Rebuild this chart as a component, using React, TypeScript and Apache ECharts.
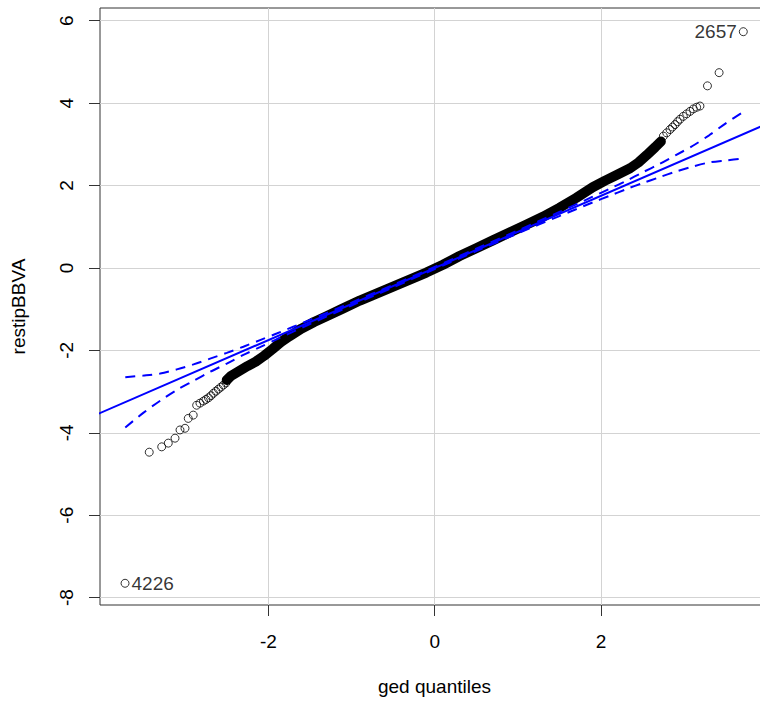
import React, { useEffect, useRef } from "react";
import * as echarts from "echarts";

// Axis ticks
const xTicks = [-2, 0, 2];
const yTicks = [-8, -6, -4, -2, 0, 2, 4, 6];
const xRange = [-4.024, 4.02];
const yRange = [-8.178, 6.309];

// Dense central part of the QQ points
const denseX = [-2.5, -2.45, -2.35, -2.25, -2.15, -2.05, -1.95, -1.85, -1.75, -1.6, -1.45, -1.3, -1.1, -0.9, -0.7, -0.5, -0.3, -0.1, 0.1, 0.3, 0.5, 0.7, 0.9, 1.1, 1.3, 1.5, 1.7, 1.9, 2.05, 2.2, 2.35, 2.45, 2.55, 2.65, 2.72];
const denseY = [-2.72, -2.62, -2.5, -2.38, -2.27, -2.13, -1.97, -1.8, -1.66, -1.47, -1.31, -1.17, -0.98, -0.79, -0.62, -0.45, -0.28, -0.11, 0.08, 0.29, 0.48, 0.67, 0.86, 1.05, 1.24, 1.46, 1.7, 1.96, 2.12, 2.27, 2.42, 2.56, 2.74, 2.93, 3.07];

// Sparse tail points
const tailX = [-3.432, -3.282, -3.203, -3.122, -3.062, -3.002, -2.963, -2.903, -2.862, -2.822, -2.78, -2.75, -2.72, -2.69, -2.66, -2.63, -2.6, -2.57, -2.54, -2.51,
  2.75, 2.79, 2.83, 2.86, 2.89, 2.92, 2.95, 2.99, 3.03, 3.07, 3.11, 3.15, 3.19, 3.28, 3.42];
const tailY = [-4.47, -4.34, -4.25, -4.13, -3.93, -3.89, -3.65, -3.57, -3.33, -3.28, -3.23, -3.19, -3.15, -3.1, -3.04, -2.99, -2.94, -2.89, -2.84, -2.79,
  3.2, 3.28, 3.36, 3.42, 3.48, 3.55, 3.61, 3.68, 3.74, 3.8, 3.86, 3.9, 3.93, 4.42, 4.74];

// Labelled extreme observations
const outlierNames = ["4226", "2657"];
const outlierX = [-3.723, 3.711];
const outlierY = [-7.651, 5.734];

// Reference line
const fitX = [-4.2, 4.2];
const fitY = [-3.675, 3.675];

// Confidence envelope
const bandX = [-3.72, -3.5, -3.3, -3.1, -2.9, -2.7, -2.5, -2.3, -2.1, -1.9, -1.5, -1.0, -0.5, 0, 0.5, 1.0, 1.5, 1.9, 2.1, 2.3, 2.5, 2.7, 2.9, 3.1, 3.3, 3.5, 3.72];
const bandUpper = [-2.65, -2.61, -2.56, -2.46, -2.34, -2.2, -2.06, -1.91, -1.75, -1.59, -1.26, -0.84, -0.41, 0.025, 0.47, 0.91, 1.36, 1.73, 1.92, 2.11, 2.32, 2.52, 2.74, 2.96, 3.22, 3.51, 3.8];
const bandLower = [-3.87, -3.51, -3.22, -2.96, -2.74, -2.52, -2.32, -2.11, -1.92, -1.73, -1.36, -0.91, -0.47, -0.025, 0.41, 0.84, 1.26, 1.59, 1.75, 1.91, 2.06, 2.2, 2.34, 2.46, 2.56, 2.61, 2.66];

const FONT = "Liberation Sans, Arial, sans-serif";
const BLUE = "#0000ff";

export default function App() {
  const ref = useRef<HTMLDivElement>(null);
  useEffect(() => {
    if (!ref.current) return;
    const chart = echarts.init(ref.current, null, { renderer: "svg" });
    const zip = (xs: number[], ys: number[]) => xs.map((x, i) => [x, ys[i]]);
    chart.setOption({
      animation: false,
      backgroundColor: "#ffffff",
      grid: {
        left: 100, top: 8, width: 669, height: 597,
        outerBoundsMode: "none", containLabel: false,
        show: true, borderColor: "#333", borderWidth: 1, backgroundColor: "transparent",
      },
      xAxis: {
        type: "value",
        min: xRange[0],
        max: xRange[1],
        name: "ged quantiles",
        nameLocation: "middle",
        nameGap: 72,
        nameTextStyle: { fontSize: 19, color: "#000", fontFamily: FONT },
        axisLine: { show: false, onZero: false },
        axisTick: { show: true, length: 11, customValues: xTicks, lineStyle: { color: "#333" } },
        axisLabel: { customValues: xTicks, fontSize: 19, color: "#000", fontFamily: FONT, margin: 27 },
        splitLine: { show: true, lineStyle: { color: "#d3d3d3", width: 1 } },
      },
      yAxis: {
        type: "value",
        min: yRange[0],
        max: yRange[1],
        name: "restipBBVA",
        nameLocation: "middle",
        nameGap: 72,
        nameRotate: 90,
        nameTextStyle: { fontSize: 19, color: "#000", fontFamily: FONT },
        axisLine: { show: false, onZero: false },
        axisTick: { show: true, length: 11, customValues: yTicks, lineStyle: { color: "#333" } },
        axisLabel: { customValues: yTicks, fontSize: 19, color: "#000", fontFamily: FONT, rotate: 90, margin: 24 },
        splitLine: { show: true, lineStyle: { color: "#d3d3d3", width: 1 } },
      },
      series: [
        {
          type: "line",
          data: zip(denseX, denseY),
          showSymbol: false,
          symbol: "none",
          lineStyle: { color: "#000", width: 10, cap: "round", join: "round" },
          z: 2,
        },
        {
          type: "scatter",
          data: zip(tailX, tailY),
          symbol: "circle",
          symbolSize: 8,
          itemStyle: { color: "rgba(0,0,0,0)", borderColor: "#000", borderWidth: 1 },
          z: 3,
        },
        {
          type: "scatter",
          data: outlierNames.map((n, i) => ({
            name: n,
            value: [outlierX[i], outlierY[i]],
            label: {
              show: true,
              formatter: n,
              position: i === 0 ? "right" : "left",
              distance: 2,
              fontSize: 19,
              color: "#000",
              fontFamily: FONT,
            },
          })),
          symbol: "circle",
          symbolSize: 8,
          itemStyle: { color: "rgba(0,0,0,0)", borderColor: "#000", borderWidth: 1 },
          z: 3,
        },
        {
          type: "line",
          data: zip(fitX, fitY),
          symbol: "none",
          clip: true,
          lineStyle: { color: BLUE, width: 2 },
          z: 4,
        },
        {
          type: "line",
          data: zip(bandX, bandUpper),
          symbol: "none",
          smooth: 0.3,
          lineStyle: { color: BLUE, width: 2, type: [10, 7] },
          z: 4,
        },
        {
          type: "line",
          data: zip(bandX, bandLower),
          symbol: "none",
          smooth: 0.3,
          lineStyle: { color: BLUE, width: 2, type: [10, 7] },
          z: 4,
        },
      ],
    });
    return () => chart.dispose();
  }, []);
  return (
    <div
      ref={ref}
      style={{ position: "fixed", left: 0, top: 0, width: 760, height: 702, overflow: "hidden", background: "#fff" }}
    />
  );
}
